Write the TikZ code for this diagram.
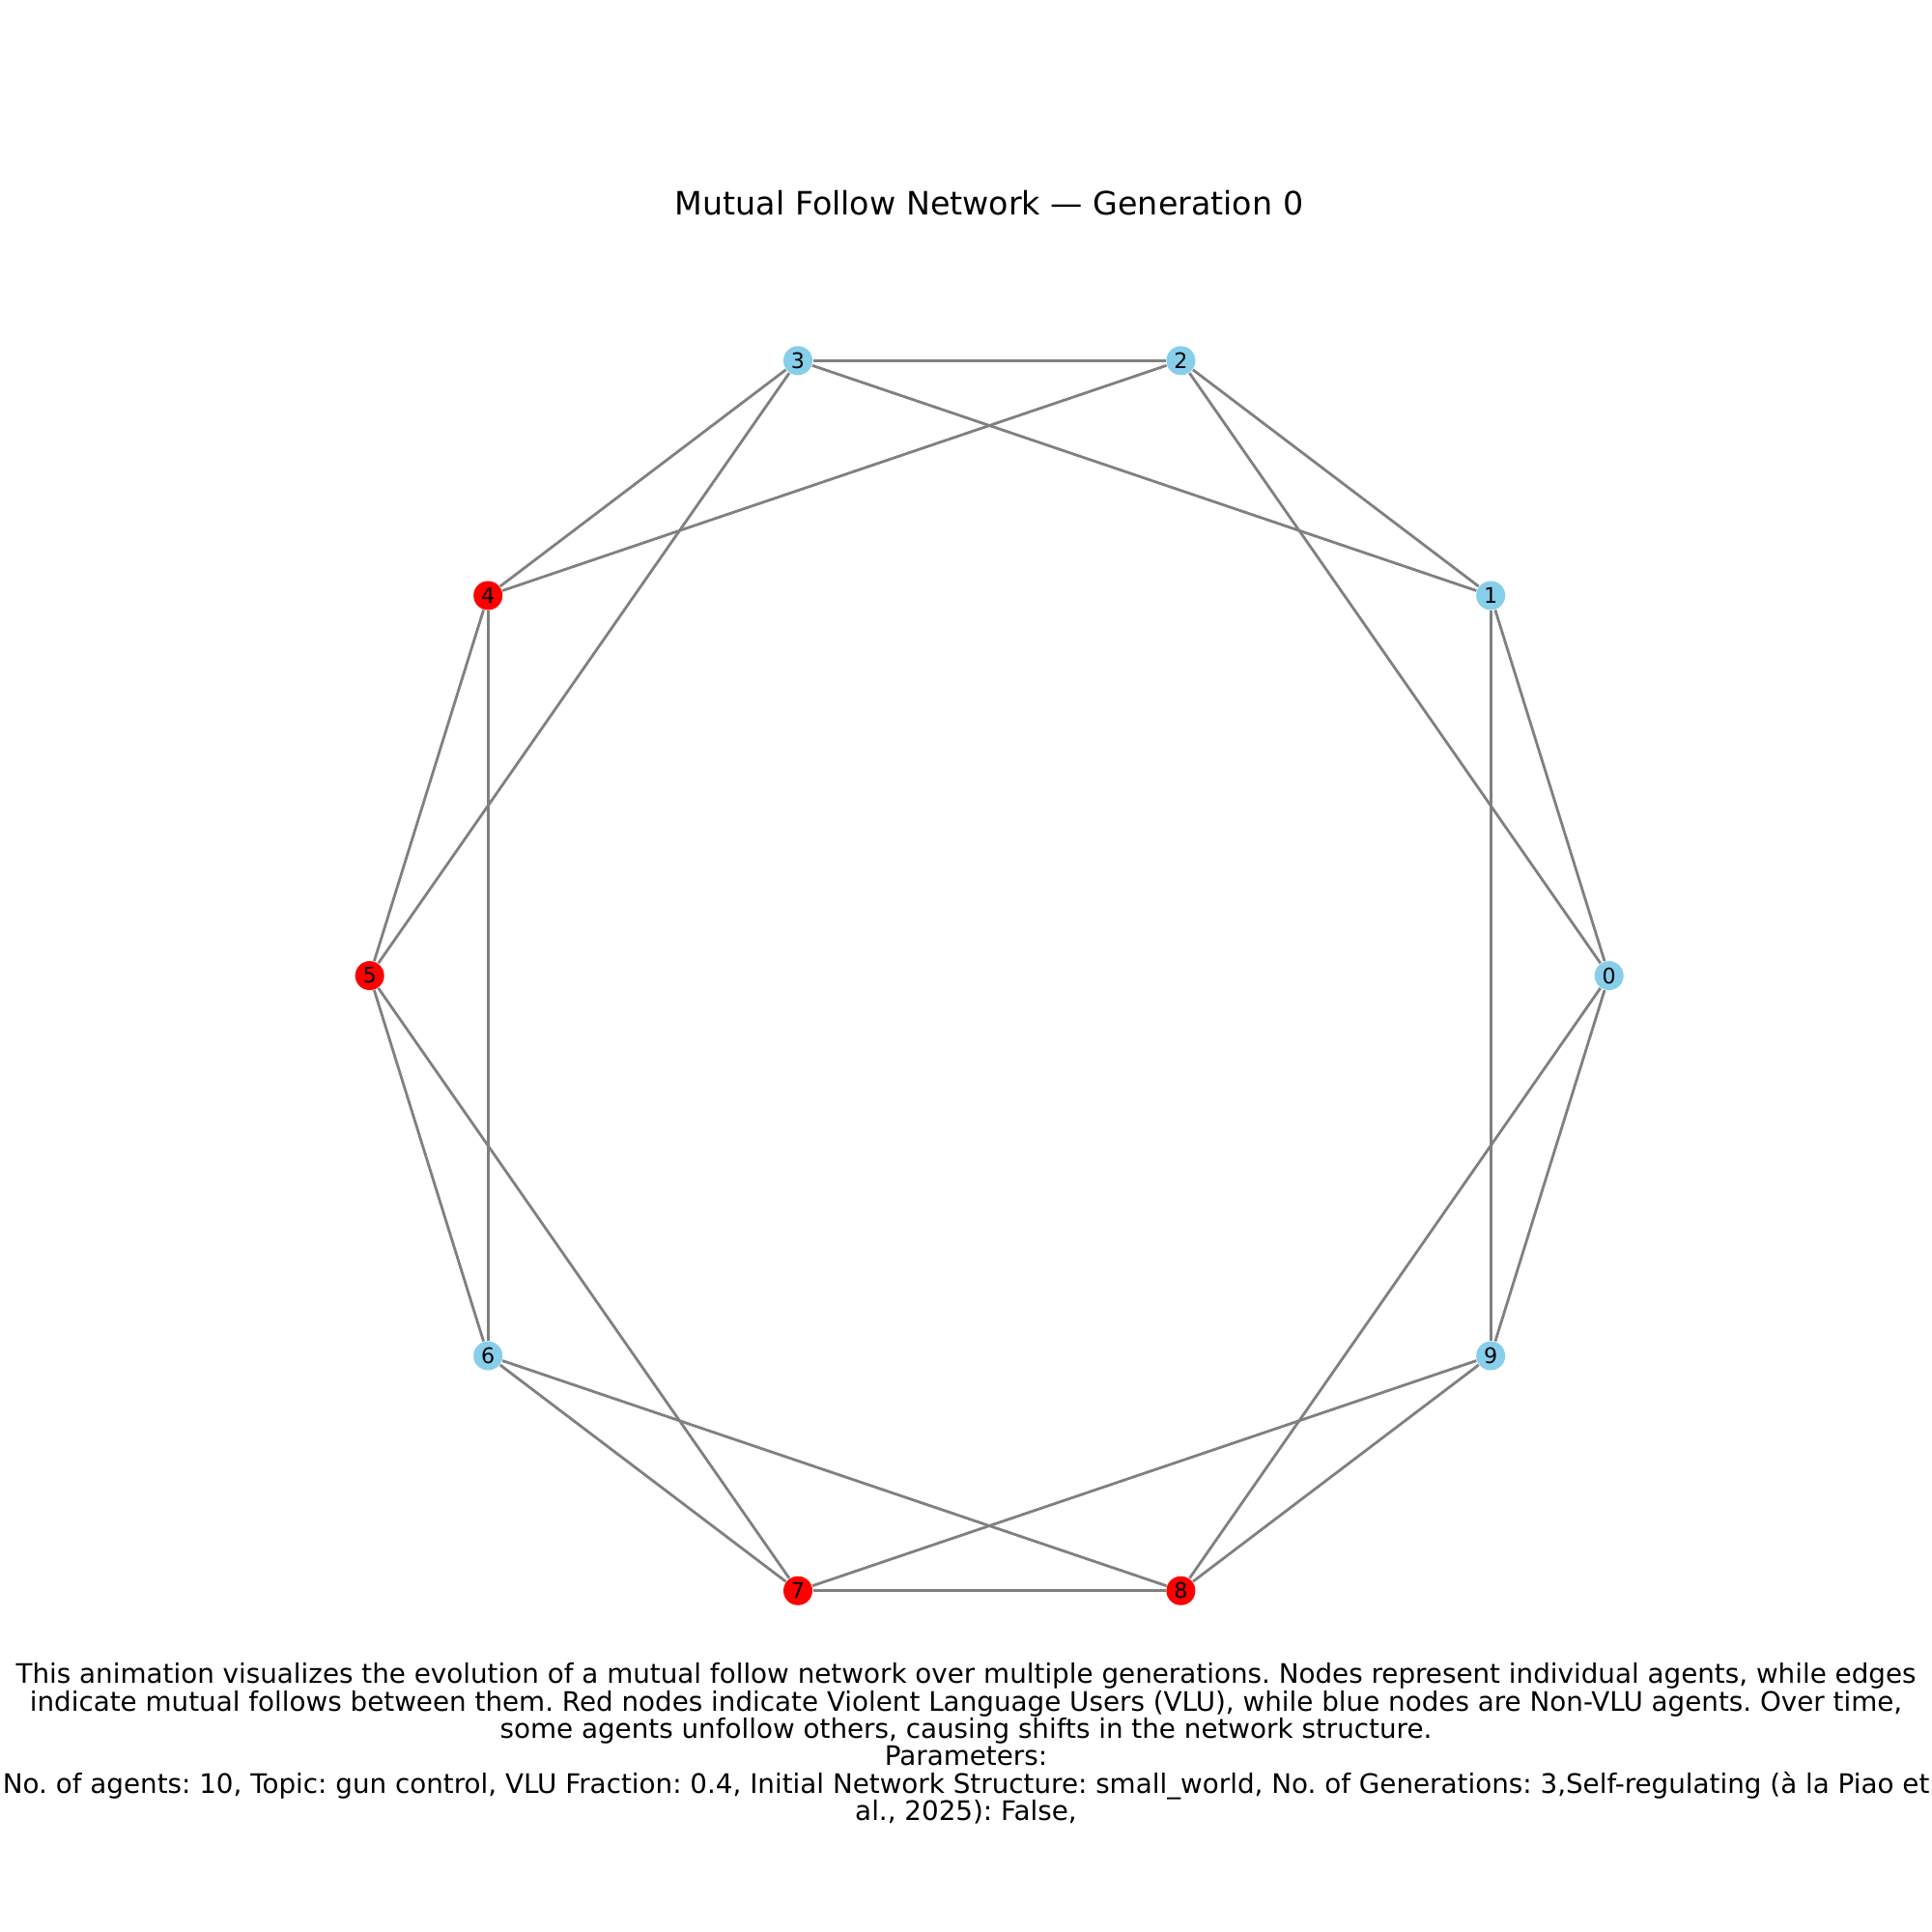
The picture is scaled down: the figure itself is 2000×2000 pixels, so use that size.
\documentclass[tikz,border=0pt]{standalone}
\usepackage{fontspec}
\setmainfont{DejaVu Sans}
\usetikzlibrary{arrows}

\begin{document}
\frenchspacing
\begin{tikzpicture}[x=0.01cm,y=-0.01cm]
\tikzstyle{agent}=[circle,inner sep=0pt,minimum size=0.3cm,font=\fontsize{6.3}{7}\selectfont]
\tikzstyle{vlu}=[agent,fill=red]
\tikzstyle{nonvlu}=[agent,fill={rgb,255:red,135;green,206;blue,235}]
\tikzstyle{follow}=[draw={rgb,255:red,128;green,128;blue,128},line width=0.8pt]

\path[use as bounding box,fill=white] (0,0) rectangle (2000,2000);

\node (T) at (1024,210) {\fontsize{9.47}{11}\selectfont Mutual Follow Network — Generation 0};

\node[nonvlu] (A0) at (1665.7,1010)  {0};
\node[nonvlu] (A1) at (1543.2,616.5) {1};
\node[nonvlu] (A2) at (1222.4,373.3) {2};
\node[nonvlu] (A3) at (826.0,373.3)  {3};
\node[vlu]    (A4) at (505.2,616.5)  {4};
\node[vlu]    (A5) at (382.7,1010)   {5};
\node[nonvlu] (A6) at (505.2,1403.5) {6};
\node[vlu]    (A7) at (826.0,1646.7) {7};
\node[vlu]    (A8) at (1222.4,1646.7) {8};
\node[nonvlu] (A9) at (1543.2,1403.5) {9};

\path[follow] (A0) edge (A1);
\path[follow] (A0) edge (A2);
\path[follow] (A0) edge (A9);
\path[follow] (A0) edge (A8);
\path[follow] (A1) edge (A2);
\path[follow] (A1) edge (A3);
\path[follow] (A1) edge (A9);
\path[follow] (A2) edge (A3);
\path[follow] (A2) edge (A4);
\path[follow] (A3) edge (A4);
\path[follow] (A3) edge (A5);
\path[follow] (A4) edge (A5);
\path[follow] (A4) edge (A6);
\path[follow] (A5) edge (A6);
\path[follow] (A5) edge (A7);
\path[follow] (A6) edge (A7);
\path[follow] (A6) edge (A8);
\path[follow] (A7) edge (A8);
\path[follow] (A7) edge (A9);
\path[follow] (A8) edge (A9);

\node[align=center,inner sep=0pt,font=\fontsize{7.9}{8.1}\selectfont] (C) at (1000,1805) {This animation visualizes the evolution of a mutual follow network over multiple generations. Nodes represent individual agents, while edges\\
indicate mutual follows between them. Red nodes indicate Violent Language Users (VLU), while blue nodes are Non-VLU agents. Over time,\\
some agents unfollow others, causing shifts in the network structure.\\
Parameters:\\
No. of agents: 10, Topic: gun control, VLU Fraction: 0.4, Initial Network Structure: small\_world, No. of Generations: 3,Self-regulating (à la Piao et\\
al., 2025): False,};

\end{tikzpicture}
\end{document}
